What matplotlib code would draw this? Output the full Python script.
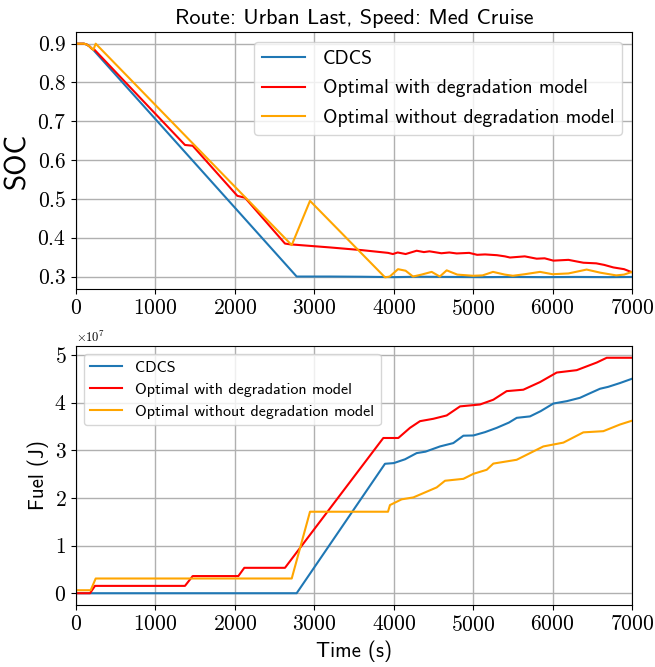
import matplotlib
matplotlib.use("Agg")
import matplotlib.pyplot as plt
from matplotlib.ticker import ScalarFormatter
import numpy as np

plt.rcParams['font.family'] = ['cmr10', 'DejaVu Serif']
plt.rcParams['mathtext.fontset'] = 'cm'
plt.rcParams['axes.formatter.use_mathtext'] = True
plt.rcParams['axes.unicode_minus'] = False

SANS = ['cmss10', 'DejaVu Sans']

title = "Route: Urban Last, Speed: Med Cruise"
labels = ["CDCS", "Optimal with degradation model", "Optimal without degradation model"]
colors = ["#1f77b4", "red", "orange"]

# ---- SOC data ----
soc_cdcs_t = [0, 100, 134, 170, 200, 218, 2778, 3200, 3600, 4000, 4300, 4700, 5100, 5500, 5900, 6300, 6700, 7000]
soc_cdcs_v = [0.9, 0.9, 0.898, 0.893, 0.887, 0.884, 0.3, 0.3, 0.2995, 0.2985, 0.2995, 0.299, 0.2985, 0.299, 0.2985, 0.299, 0.2985, 0.299]

soc_opt_t = [0, 100, 134, 170, 200, 230, 1372, 1469, 2031, 2128, 2631, 2694, 3198, 3600, 3928, 3990, 4050, 4150, 4289,
             4380, 4450, 4600, 4700, 4793, 4950, 5050, 5150, 5300, 5400, 5464, 5650, 5800, 5900, 6010, 6200, 6300,
             6388, 6550, 6650, 6765, 6900, 7000]
soc_opt_v = [0.9, 0.9, 0.898, 0.893, 0.887, 0.885, 0.639, 0.637, 0.508, 0.503, 0.385, 0.383, 0.375, 0.368, 0.361, 0.358,
             0.362, 0.358, 0.3665, 0.363, 0.365, 0.36, 0.362, 0.3595, 0.361, 0.356, 0.357, 0.355, 0.352, 0.349, 0.352,
             0.346, 0.347, 0.341, 0.343, 0.339, 0.3356, 0.334, 0.330, 0.3235, 0.319, 0.311]

soc_nodeg_t = [0, 100, 134, 170, 200, 218, 248, 2716, 2946, 3890, 3950, 4054, 4150, 4243, 4350, 4478, 4580, 4667, 4800,
               5000, 5120, 5250, 5400, 5500, 5650, 5842, 6000, 6200, 6429, 6600, 6800, 6900, 7000]
soc_nodeg_v = [0.9, 0.9, 0.898, 0.893, 0.887, 0.884, 0.9, 0.381, 0.495, 0.298, 0.3, 0.319, 0.315, 0.3, 0.305, 0.312, 0.3,
               0.316, 0.305, 0.302, 0.303, 0.312, 0.305, 0.302, 0.306, 0.312, 0.306, 0.308, 0.318, 0.31, 0.303, 0.305, 0.312]

# ---- Fuel data (units of 1e7 J) ----
fuel_cdcs_t = [0, 2778, 3890, 4000, 4142, 4289, 4400, 4583, 4750, 4877, 5003, 5150, 5297, 5450, 5549, 5716, 5850, 6010,
               6180, 6345, 6450, 6597, 6700, 6849, 7000]
fuel_cdcs_v = [0, 0, 2.716, 2.73, 2.81, 2.94, 2.97, 3.08, 3.15, 3.305, 3.31, 3.38, 3.47, 3.58, 3.68, 3.71, 3.82, 3.98,
               4.03, 4.10, 4.18, 4.29, 4.33, 4.41, 4.50]

fuel_opt_t = [0, 176, 239, 1372, 1469, 2044, 2119, 2631, 3869, 4058, 4205, 4331, 4499, 4667, 4835, 5087, 5254, 5422,
              5632, 5842, 6052, 6304, 6556, 6682, 7000]
fuel_opt_v = [0, 0, 0.154, 0.154, 0.36, 0.36, 0.533, 0.533, 3.257, 3.257, 3.47, 3.61, 3.66, 3.73, 3.92, 3.96, 4.06,
              4.24, 4.27, 4.43, 4.63, 4.68, 4.84, 4.94, 4.94]

fuel_nodeg_t = [0, 185, 248, 2716, 2946, 3928, 3953, 4100, 4247, 4373, 4541, 4646, 4877, 5003, 5171, 5254, 5548, 5716,
                5884, 6136, 6387, 6639, 6849, 7000]
fuel_nodeg_v = [0.063, 0.063, 0.309, 0.309, 1.71, 1.71, 1.85, 1.97, 2.01, 2.10, 2.22, 2.36, 2.40, 2.505, 2.59, 2.72,
                2.80, 2.94, 3.08, 3.16, 3.375, 3.40, 3.54, 3.62]

fig = plt.figure(figsize=(6.55, 6.67), dpi=100)
ax1 = fig.add_axes([76/655, 1-289/667, 556/655, 257/667])
ax2 = fig.add_axes([76/655, 1-605/667, 556/655, 259/667])

lw = 1.5
for t, v, c, l in [(soc_cdcs_t, soc_cdcs_v, colors[0], labels[0]),
                   (soc_opt_t, soc_opt_v, colors[1], labels[1]),
                   (soc_nodeg_t, soc_nodeg_v, colors[2], labels[2])]:
    ax1.plot(t, v, color=c, lw=lw, label=l)

for t, v, c, l in [(fuel_cdcs_t, fuel_cdcs_v, colors[0], labels[0]),
                   (fuel_opt_t, fuel_opt_v, colors[1], labels[1]),
                   (fuel_nodeg_t, fuel_nodeg_v, colors[2], labels[2])]:
    ax2.plot(t, np.array(v) * 1e7, color=c, lw=lw, label=l)

for ax in (ax1, ax2):
    ax.set_xlim(0, 7000)
    ax.grid(True, color='#b0b0b0', linewidth=1)
    ax.tick_params(labelsize=15.5)

ax1.set_title(title, fontfamily=SANS, fontsize=16)
ax1.set_ylabel("SOC", fontfamily=SANS, fontsize=21)
ax2.set_ylabel("Fuel (J)", fontfamily=SANS, fontsize=15)
ax2.set_xlabel("Time (s)", fontfamily=SANS, fontsize=15)
ax1.set_yticks([0.3, 0.4, 0.5, 0.6, 0.7, 0.8, 0.9])

fmt = ScalarFormatter(useMathText=True)
fmt.set_powerlimits((0, 0))
ax2.yaxis.set_major_formatter(fmt)
ax2.yaxis.get_offset_text().set_fontsize(9)

ax1.legend(loc='upper right', prop={'family': SANS, 'size': 14.1},
           handlelength=2.2, handletextpad=0.9, labelspacing=0.6)
ax2.legend(loc='upper left', prop={'family': SANS, 'size': 11.5})

fig.savefig("out.png", dpi=100)
